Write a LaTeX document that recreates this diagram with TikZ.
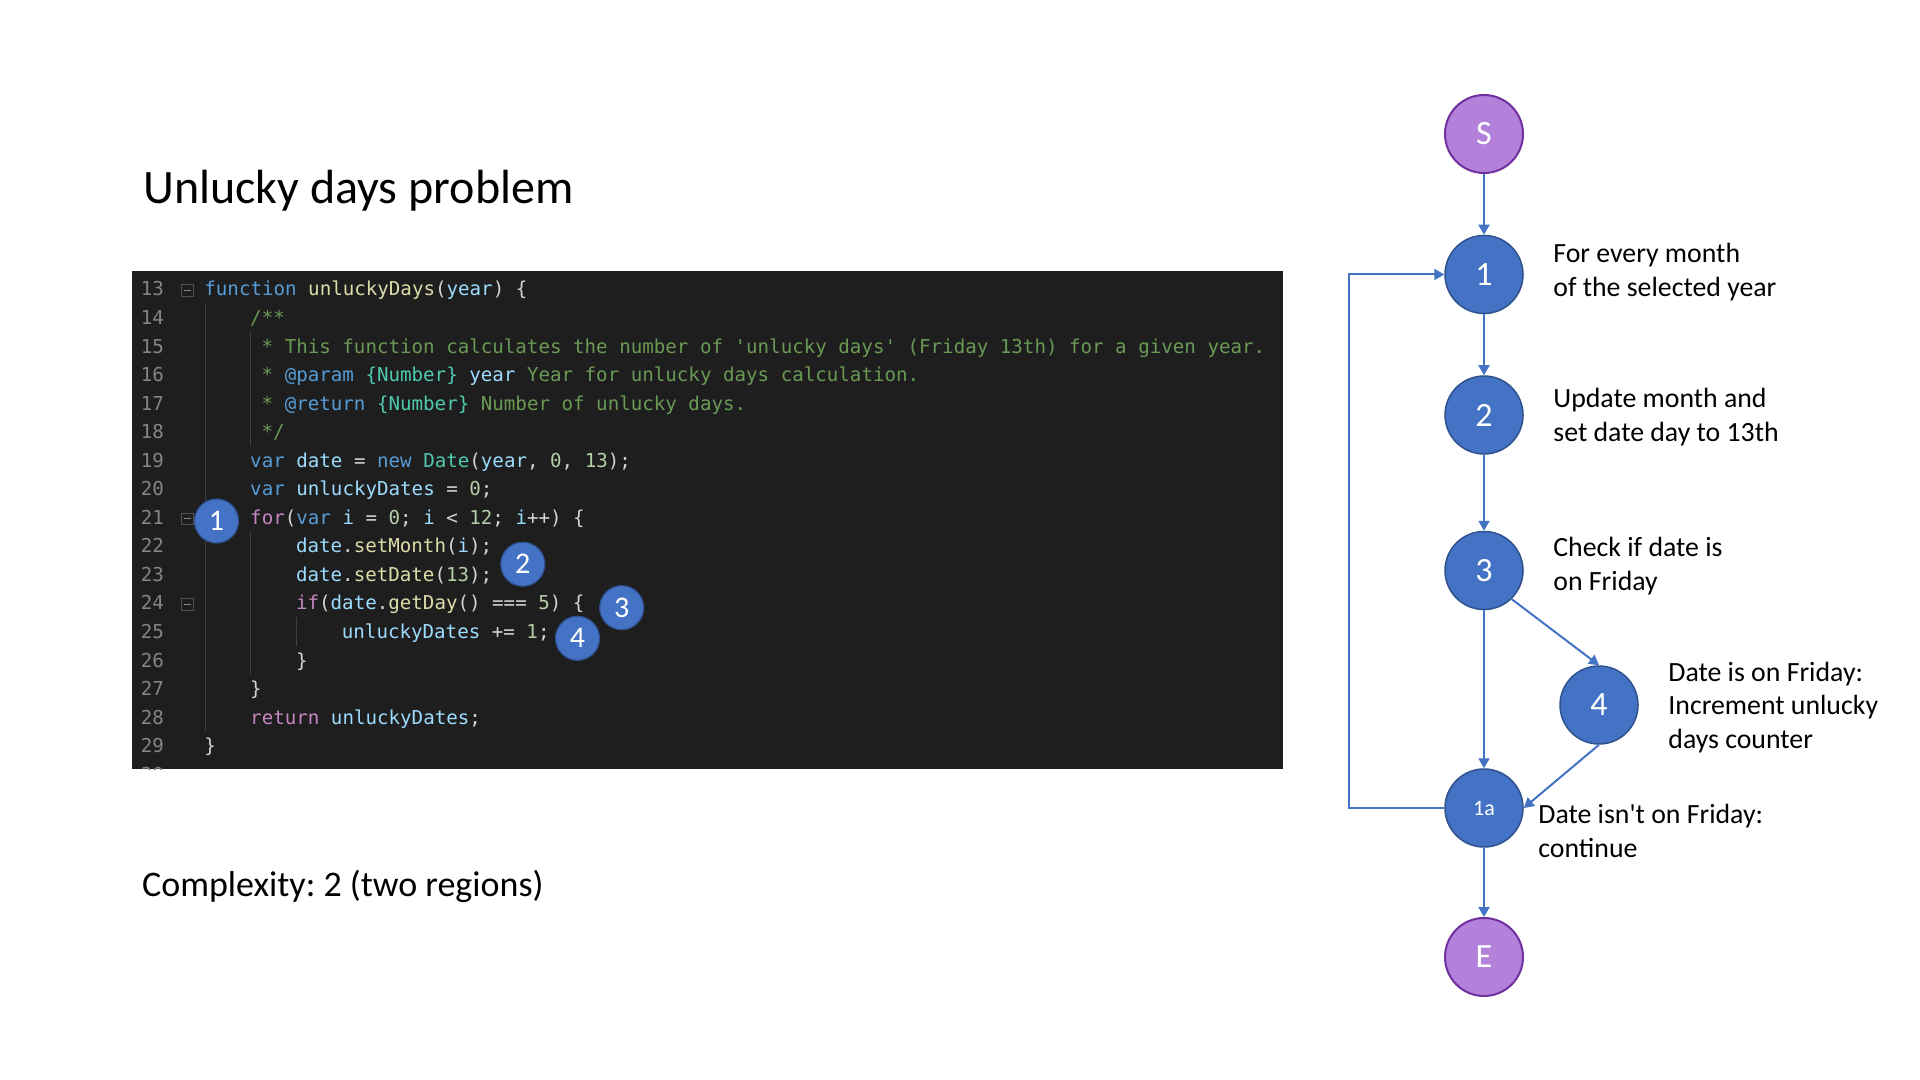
\documentclass[tikz,border=0pt]{standalone}
\usepackage{fontspec}
\setmainfont{Carlito}
\setmonofont{DejaVu Sans Mono}
\usetikzlibrary{arrows.meta}
\definecolor{codebg}{HTML}{1E1E1E}
\definecolor{lnumcol}{HTML}{858585}
\definecolor{kwcol}{HTML}{569CD6}
\definecolor{fncol}{HTML}{DCDCAA}
\definecolor{varcol}{HTML}{9CDCFE}
\definecolor{punccol}{HTML}{D4D4D4}
\definecolor{numcol}{HTML}{B5CEA8}
\definecolor{cmtcol}{HTML}{6A9955}
\definecolor{typecol}{HTML}{4EC9B0}
\definecolor{ctrlcol}{HTML}{C586C0}
\definecolor{guidecol}{HTML}{404040}
\definecolor{foldcol}{HTML}{505050}
\definecolor{foldminus}{HTML}{8A8A8A}
\definecolor{nodeblue}{HTML}{4472C4}
\definecolor{nodeborder}{HTML}{2F528F}
\definecolor{termfill}{HTML}{B381D9}
\definecolor{termborder}{HTML}{7030A0}
\definecolor{edgeblue}{HTML}{4472C4}
\newcommand\cK[1]{\textcolor{kwcol}{#1}}
\newcommand\cF[1]{\textcolor{fncol}{#1}}
\newcommand\cV[1]{\textcolor{varcol}{#1}}
\newcommand\cP[1]{\textcolor{punccol}{#1}}
\newcommand\cN[1]{\textcolor{numcol}{#1}}
\newcommand\cC[1]{\textcolor{cmtcol}{#1}}
\newcommand\cT[1]{\textcolor{typecol}{#1}}
\newcommand\cR[1]{\textcolor{ctrlcol}{#1}}
\frenchspacing
\begin{document}
\begin{tikzpicture}[x=0.5pt,y=-0.5pt]
\tikzset{
  gnode/.style={circle, minimum size=39pt, inner sep=0pt, fill=nodeblue, draw=nodeborder, line width=0.75pt, text=white, font=\fontsize{17}{17}\selectfont},
  tnode/.style={gnode, fill=termfill, draw=termborder, line width=1pt},
  flow/.style={draw=edgeblue, line width=1pt, -{Triangle[length=5pt,width=5.5pt]}},
  lbl/.style={anchor=base west, inner sep=0pt, text=black, font=\fontsize{13.9}{16}\selectfont},
  codeln/.style={anchor=base west, inner sep=0pt, font=\ttfamily\fontsize{9.58}{12}\selectfont},
  lnum/.style={anchor=base east, inner sep=0pt, text=lnumcol, font=\ttfamily\fontsize{9.58}{12}\selectfont},
  marker/.style={circle, minimum size=22pt, inner sep=0pt, fill=nodeblue, draw=nodeborder, line width=0.6pt, text=white, font=\fontsize{15}{15}\selectfont},
  guide/.style={draw=guidecol, line width=0.5pt},
  foldbox/.style={draw=foldcol, line width=0.5pt},
  foldmin/.style={draw=foldminus, line width=0.5pt}
}
\useasboundingbox (0,0) rectangle (1920,1080);
\fill[white] (0,0) rectangle (1920,1080);

% Title and complexity
\node[anchor=base west, inner sep=0pt, font=\fontsize{24.0}{28}\selectfont] (title) at (143,204) {Unlucky days problem};
\node[anchor=base west, inner sep=0pt, font=\fontsize{18.0}{21}\selectfont] (cplx) at (141.7,896) {Complexity: 2 (two regions)};

% Code panel
\fill[codebg] (131.5,271.5) rectangle (1283,769);
\begin{scope}
\clip (131.5,271.5) rectangle (1283,769);
% indent guides
\draw[guide] (205,303) -- (205,731);
\draw[guide] (250.8,331.5) -- (250.8,445.6);
\draw[guide] (250.8,531.4) -- (250.8,674);
\draw[guide] (296.7,617) -- (296.7,645.5);
% fold markers
\foreach \b in {296,524.32,609.94}{
  \draw[foldbox] (181.7,\b-11.3) rectangle (193.3,\b+0.3);
  \draw[foldmin] (184.3,\b-5.5) -- (190.7,\b-5.5);
}
% line numbers
\node[lnum] (ln13) at (164.3,296) {13};
\node[lnum] (ln14) at (164.3,324.54) {14};
\node[lnum] (ln15) at (164.3,353.08) {15};
\node[lnum] (ln16) at (164.3,381.62) {16};
\node[lnum] (ln17) at (164.3,410.16) {17};
\node[lnum] (ln18) at (164.3,438.70) {18};
\node[lnum] (ln19) at (164.3,467.24) {19};
\node[lnum] (ln20) at (164.3,495.78) {20};
\node[lnum] (ln21) at (164.3,524.32) {21};
\node[lnum] (ln22) at (164.3,552.86) {22};
\node[lnum] (ln23) at (164.3,581.40) {23};
\node[lnum] (ln24) at (164.3,609.94) {24};
\node[lnum] (ln25) at (164.3,638.48) {25};
\node[lnum] (ln26) at (164.3,667.02) {26};
\node[lnum] (ln27) at (164.3,695.56) {27};
\node[lnum] (ln28) at (164.3,724.10) {28};
\node[lnum] (ln29) at (164.3,752.64) {29};
\node[lnum] (ln30) at (164.3,781.18) {30};
% code lines
\node[codeln] (c13) at (204,296) {\cK{function} \cF{unluckyDays}\cP{(}\cV{year}\cP{) \{}};
\node[codeln] (c14) at (249.84,324.54) {\cC{/**}};
\node[codeln] (c15) at (261.3,353.08) {\cC{* This function calculates the number of \char"0027unlucky days\char"0027{} (Friday 13th) for a given year.}};
\node[codeln] (c16) at (261.3,381.62) {\cC{*} \cK{@param} \cT{\{Number\}} \cV{year} \cC{Year for unlucky days calculation.}};
\node[codeln] (c17) at (261.3,410.16) {\cC{*} \cK{@return} \cT{\{Number\}} \cC{Number of unlucky days.}};
\node[codeln] (c18) at (261.3,438.70) {\cC{*/}};
\node[codeln] (c19) at (249.84,467.24) {\cK{var} \cV{date} \cP{=} \cK{new} \cT{Date}\cP{(}\cV{year}\cP{,} \cN{0}\cP{,} \cN{13}\cP{);}};
\node[codeln] (c20) at (249.84,495.78) {\cK{var} \cV{unluckyDates} \cP{=} \cN{0}\cP{;}};
\node[codeln] (c21) at (249.84,524.32) {\cR{for}\cP{(}\cK{var} \cV{i} \cP{=} \cN{0}\cP{;} \cV{i} \cP{<} \cN{12}\cP{;} \cV{i}\cP{++) \{}};
\node[codeln] (c22) at (295.68,552.86) {\cV{date}\cP{.}\cF{setMonth}\cP{(}\cV{i}\cP{);}};
\node[codeln] (c23) at (295.68,581.40) {\cV{date}\cP{.}\cF{setDate}\cP{(}\cN{13}\cP{);}};
\node[codeln] (c24) at (295.68,609.94) {\cR{if}\cP{(}\cV{date}\cP{.}\cF{getDay}\cP{() ===} \cN{5}\cP{) \{}};
\node[codeln] (c25) at (341.52,638.48) {\cV{unluckyDates} \cP{+=} \cN{1}\cP{;}};
\node[codeln] (c26) at (295.68,667.02) {\cP{\}}};
\node[codeln] (c27) at (249.84,695.56) {\cP{\}}};
\node[codeln] (c28) at (249.84,724.10) {\cR{return} \cV{unluckyDates}\cP{;}};
\node[codeln] (c29) at (204,752.64) {\cP{\}}};
\end{scope}

% code markers
\node[marker] (m1) at (216.5,521) {1};
\node[marker] (m2) at (522.8,564.2) {2};
\node[marker] (m3) at (621.7,607.7) {3};
\node[marker] (m4) at (577.5,638.3) {4};

% Flow graph
\node[tnode] (S) at (1484,134) {S};
\node[gnode] (n1) at (1484,274.5) {1};
\node[gnode] (n2) at (1484,415) {2};
\node[gnode] (n3) at (1484,570.5) {3};
\node[gnode] (n4) at (1599,705) {4};
\node[gnode, font=\fontsize{11}{11}\selectfont] (n1a) at (1484,808) {1a};
\node[tnode] (E) at (1484,957) {E};
\coordinate (loop) at (1349,808);

\draw[flow] (S) -- (n1);
\draw[flow] (n1) -- (n2);
\draw[flow] (n2) -- (n3);
\draw[flow] (n3) -- (n1a);
\draw[flow] (n3.-46) -- (n4.north);
\draw[flow] (n4.south) -- (n1a.east);
\draw[flow] (n1a) -- (E);
\draw[flow] (n1a.west) -- (loop) |- (n1.west);

% labels
\node[lbl] (t1a) at (1553,263) {For every month};
\node[lbl] (t1b) at (1553,297) {of the selected year};
\node[lbl] (t2a) at (1553,408) {Update month and};
\node[lbl] (t2b) at (1553,441) {set date day to 13th};
\node[lbl] (t3a) at (1553,556.7) {Check if date is};
\node[lbl] (t3b) at (1553,590) {on Friday};
\node[lbl] (t4a) at (1668,681) {Date is on Friday:};
\node[lbl] (t4b) at (1668,714.5) {Increment unlucky};
\node[lbl] (t4c) at (1668,748) {days counter};
\node[lbl] (t5a) at (1538,823) {Date isn\textquotesingle t on Friday:};
\node[lbl] (t5b) at (1538,857) {continue};
\end{tikzpicture}
\end{document}
